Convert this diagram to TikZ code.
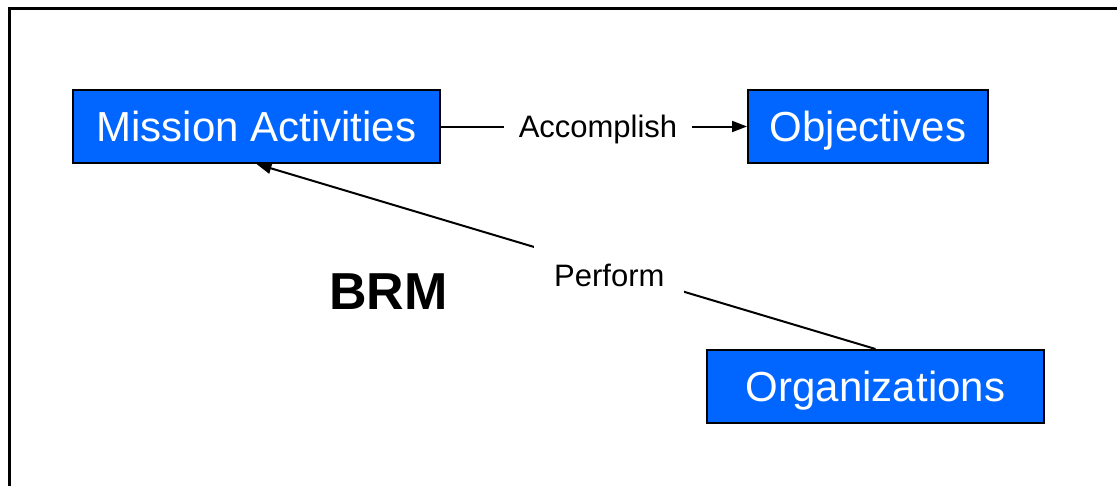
\documentclass[tikz,border=0pt]{standalone}
\usepackage{fontspec}
\setmainfont{Liberation Sans}
\usetikzlibrary{arrows.meta}
\definecolor{boxblue}{RGB}{0,102,255}
\tikzset{
  entity/.style={draw=black, line width=2pt, fill=boxblue, text=white,
    minimum height=73pt, inner sep=0pt, text height=30pt, text depth=0pt,
    font=\fontsize{42}{50}\selectfont},
  relation/.style={fill=white, text=black, text height=22pt, text depth=0pt,
    font=\fontsize{31}{37}\selectfont},
  link/.style={line width=2pt, draw=black},
  tip/.style={-{Triangle[length=15pt,width=11pt]}}
}
\begin{document}
\begin{tikzpicture}[x=1pt, y=-1pt]
  \useasboundingbox (0,0) rectangle (1117,485);
  \clip (0,0) rectangle (1117,485);
  % outer frame, running past the right and bottom edges
  \draw[line width=3pt] (9.5,8.5) rectangle (1140,520);

  \node[entity, minimum width=367pt] (ma)  at (256.5,126.5) {Mission Activities};
  \node[entity, minimum width=240pt] (obj) at (868,126.5)   {Objectives};
  \node[entity, minimum width=337pt] (org) at (875.5,386.5) {Organizations};

  \node[font=\bfseries\fontsize{52}{60}\selectfont, text height=37pt, text depth=0pt, inner sep=0pt] (brm) at (388.5,291) {BRM};

  \draw[link, tip] (ma.east) -- node[relation, inner xsep=15pt, inner ysep=8pt, xshift=4pt] {Accomplish} (obj.west);
  \draw[link, tip] (org.north) -- node[relation, pos=0.43, minimum width=150pt, minimum height=62pt, yshift=-6.5pt, inner sep=0pt] {Perform} (ma.south);
\end{tikzpicture}
\end{document}
